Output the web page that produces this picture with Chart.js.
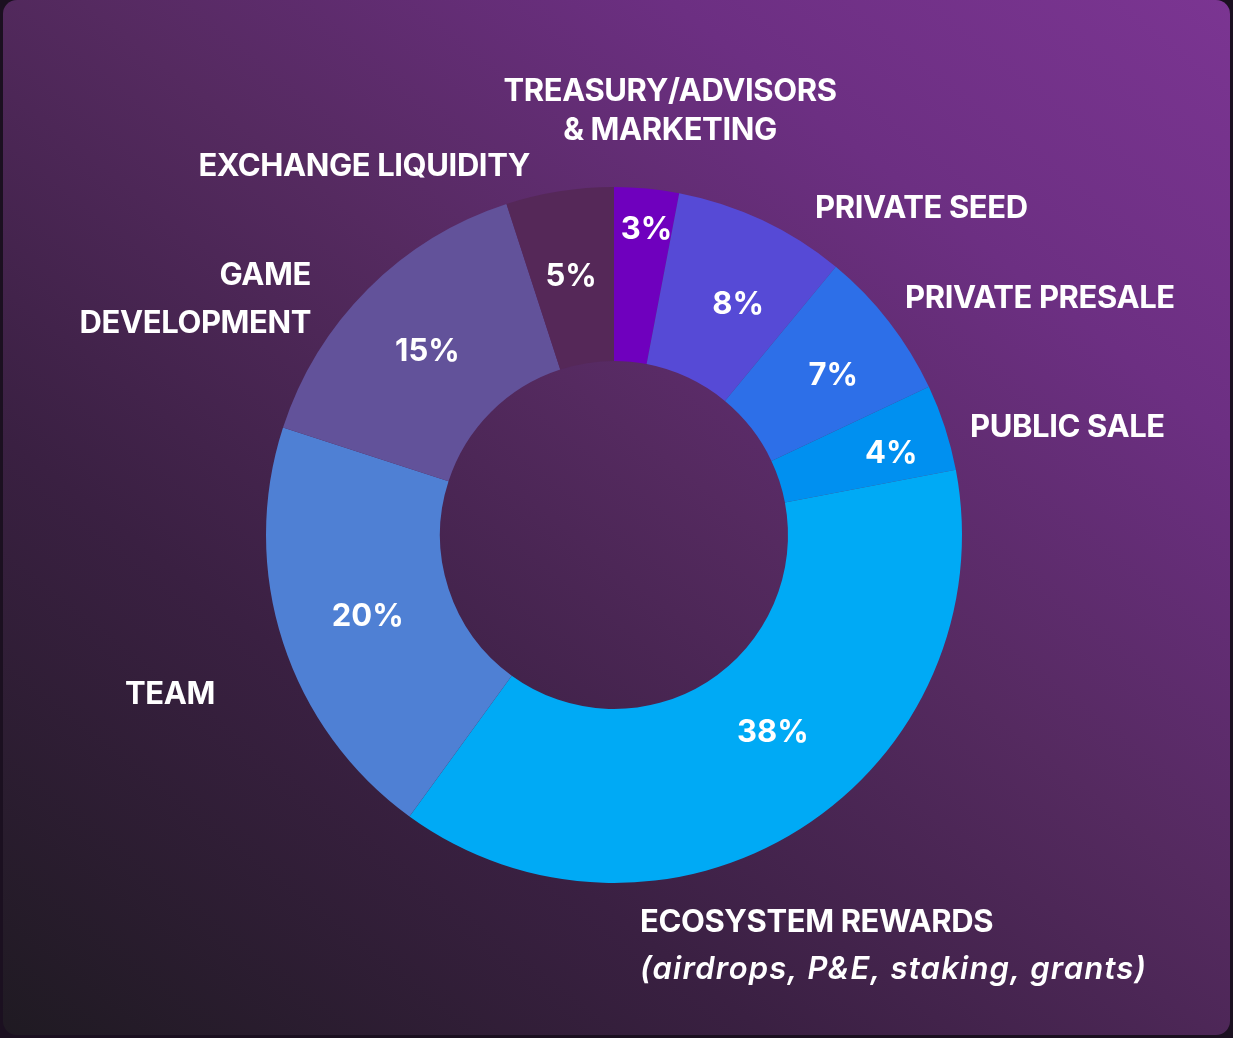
<!DOCTYPE html>
<html>
<head>
<meta charset="utf-8">
<script src="https://cdn.jsdelivr.net/npm/chart.js@4/dist/chart.umd.min.js"></script>
<style>
  html, body { margin: 0; padding: 0; background: #1b1020; width: 1233px; height: 1038px; overflow: hidden; }
  .card {
    position: absolute; left: 3px; top: 0; width: 1227px; height: 1035px;
    border-radius: 14px;
    background: linear-gradient(38deg, #1f1a22 0%, #3a2042 30%, #552a60 55%, #6c2f82 78%, #7b3592 100%);
  }
  #wrap { position: absolute; left: 0; top: 0; width: 1233px; height: 1038px; }
</style>
</head>
<body>
<div class="card"></div>
<div id="wrap"><canvas id="pie"></canvas></div>
<script>
'use strict';

// ─── DATA ─────────────────────────────────────────────
const categories = [
    ['TREASURY/ADVISORS', '& MARKETING'],
    ['PRIVATE SEED'],
    ['PRIVATE PRESALE'],
    ['PUBLIC SALE'],
    ['ECOSYSTEM REWARDS', '(airdrops, P&E, staking, grants)'],
    ['TEAM'],
    ['GAME', 'DEVELOPMENT'],
    ['EXCHANGE LIQUIDITY']
];
const shares = [3, 8, 7, 4, 38, 20, 15, 5];
const sliceColors = ['#6f00be', '#564ad6', '#2d6fe8', '#0090f0', '#00aaf5', '#4f80d4', '#62529a', '#552858'];

// label placement relative to chart centre (style only)
const pctNudge = [[8, -45], [13, 6], [13, 1], [29, -1], [19, -23], [2, 1], [-2, 1], [-2, -1]];
const outerLabels = [
    { dx: 56, dy: -443, align: 'center', gap: 39 },
    { dx: 201, dy: -326, align: 'left', gap: 0 },
    { dx: 291, dy: -236, align: 'left', gap: 0 },
    { dx: 356, dy: -107, align: 'left', gap: 0 },
    { dx: 26, dy: 388, align: 'left', gap: 47, italicLast: true },
    { dx: -399, dy: 160, align: 'right', gap: 0 },
    { dx: -303, dy: -259, align: 'right', gap: 48 },
    { dx: -84, dy: -368, align: 'right', gap: 0 }
];

const FONT = 'Inter, "Open Sans", sans-serif';

const labelPlugin = {
    id: 'sliceLabels',
    afterDatasetsDraw(chart) {
        const ctx = chart.ctx;
        const arcs = chart.getDatasetMeta(0).data;
        ctx.save();
        ctx.fillStyle = '#ffffff';
        ctx.textBaseline = 'middle';
        arcs.forEach((arc, i) => {
            // percentage inside the slice
            const p = arc.tooltipPosition();
            ctx.font = '700 31px ' + FONT;
            ctx.letterSpacing = '0px';
            ctx.textAlign = 'center';
            ctx.fillText(shares[i] + '%', p.x + pctNudge[i][0], p.y + pctNudge[i][1]);

            // category name outside
            const o = outerLabels[i];
            ctx.textAlign = o.align;
            categories[i].forEach((line, k) => {
                const italic = o.italicLast && k === categories[i].length - 1;
                ctx.font = (italic ? 'italic 600 ' : '700 ') + '31px ' + FONT;
                ctx.letterSpacing = italic ? '1.2px' : '-0.4px';
                ctx.fillText(line, arc.x + o.dx, arc.y + o.dy + k * o.gap);
            });
        });
        ctx.restore();
    }
};

new Chart(document.getElementById('pie'), {
    type: 'doughnut',
    data: {
        labels: categories.map(c => c.join(' ')),
        datasets: [{
            data: shares,
            backgroundColor: sliceColors,
            borderWidth: 0,
            hoverOffset: 0
        }]
    },
    options: {
        responsive: true,
        maintainAspectRatio: false,
        animation: false,
        cutout: '50%',
        layout: { padding: { top: 187, bottom: 155, left: 0, right: 5 } },
        plugins: { legend: { display: false }, tooltip: { enabled: false } }
    },
    plugins: [labelPlugin]
});
</script>
</body>
</html>
